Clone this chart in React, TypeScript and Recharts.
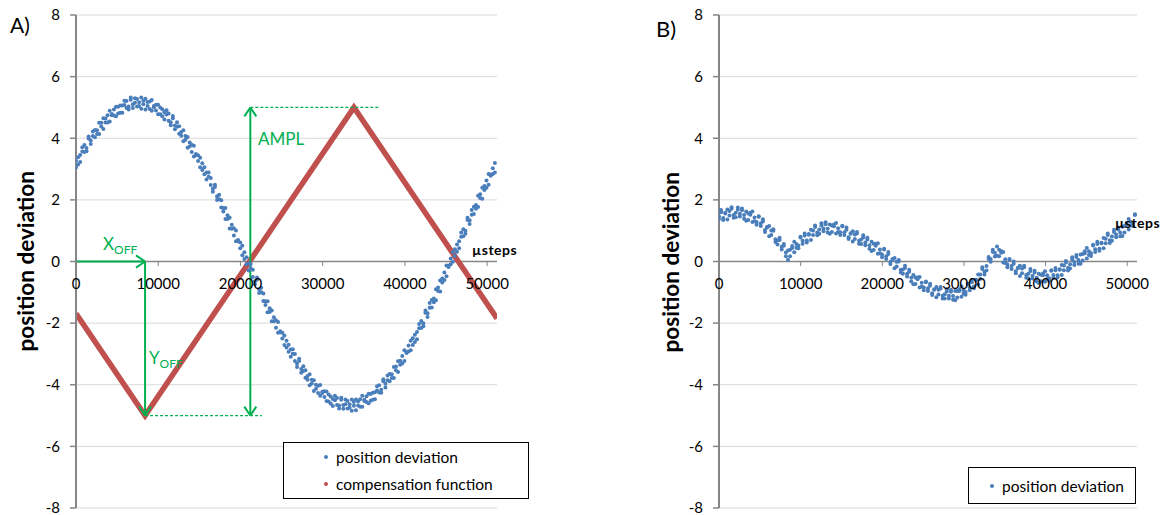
import React from "react";
import {
  ComposedChart,
  Scatter,
  Line,
  XAxis,
  YAxis,
  CartesianGrid,
  ReferenceLine,
  ReferenceDot,
  Legend,
} from "recharts";

// sample positions (µsteps) shared by both measurements
const steps = [
  0, 256, 512, 768, 1024, 1280, 1536, 1792, 2048, 2304, 2560, 2816, 3072, 3328, 3584, 3840, 4096, 4352, 4608, 4864,
  5120, 5376, 5632, 5888, 6144, 6400, 6656, 6912, 7168, 7424, 7680, 7936, 8192, 8448, 8704, 8960, 9216, 9472, 9728, 9984,
  10240, 10496, 10752, 11008, 11264, 11520, 11776, 12032, 12288, 12544, 12800, 13056, 13312, 13568, 13824, 14080, 14336, 14592, 14848, 15104,
  15360, 15616, 15872, 16128, 16384, 16640, 16896, 17152, 17408, 17664, 17920, 18176, 18432, 18688, 18944, 19200, 19456, 19712, 19968, 20224,
  20480, 20736, 20992, 21248, 21504, 21760, 22016, 22272, 22528, 22784, 23040, 23296, 23552, 23808, 24064, 24320, 24576, 24832, 25088, 25344,
  25600, 25856, 26112, 26368, 26624, 26880, 27136, 27392, 27648, 27904, 28160, 28416, 28672, 28928, 29184, 29440, 29696, 29952, 30208, 30464,
  30720, 30976, 31232, 31488, 31744, 32000, 32256, 32512, 32768, 33024, 33280, 33536, 33792, 34048, 34304, 34560, 34816, 35072, 35328, 35584,
  35840, 36096, 36352, 36608, 36864, 37120, 37376, 37632, 37888, 38144, 38400, 38656, 38912, 39168, 39424, 39680, 39936, 40192, 40448, 40704,
  40960, 41216, 41472, 41728, 41984, 42240, 42496, 42752, 43008, 43264, 43520, 43776, 44032, 44288, 44544, 44800, 45056, 45312, 45568, 45824,
  46080, 46336, 46592, 46848, 47104, 47360, 47616, 47872, 48128, 48384, 48640, 48896, 49152, 49408, 49664, 49920, 50176, 50432, 50688, 50944,
];

// A) position deviation, uncompensated (two passes)
const deviationA = [
  3.27, 3.15, 3.46, 3.71, 3.55, 3.58, 3.99, 3.93, 4.22, 4.03, 4.26, 4.14, 4.5, 4.65, 4.51, 4.51, 4.89, 4.75, 4.93, 4.71,
  5.02, 4.83, 5.06, 5.22, 4.98, 4.93, 5.25, 5.1, 5.3, 5.03, 5.17, 4.96, 5.22, 5.28, 5.05, 4.95, 5.24, 5.01, 5.09, 4.78,
  5.0, 4.71, 4.84, 4.91, 4.57, 4.42, 4.65, 4.41, 4.52, 4.15, 4.2, 3.9, 4.07, 4.04, 3.73, 3.55, 3.76, 3.45, 3.45, 3.06,
  3.19, 2.83, 2.89, 2.89, 2.48, 2.26, 2.42, 2.12, 2.17, 1.75, 1.74, 1.38, 1.5, 1.42, 1.06, 0.84, 1.01, 0.66, 0.62, 0.2,
  0.3, -0.09, -0.06, -0.08, -0.5, -0.74, -0.59, -0.9, -0.85, -1.28, -1.29, -1.65, -1.52, -1.59, -1.94, -2.15, -1.96, -2.3, -2.31, -2.71,
  -2.57, -2.93, -2.86, -2.85, -3.23, -3.42, -3.23, -3.49, -3.4, -3.77, -3.72, -4.02, -3.84, -3.85, -4.13, -4.27, -4.01, -4.27, -4.21, -4.53,
  -4.32, -4.61, -4.46, -4.36, -4.66, -4.77, -4.49, -4.66, -4.48, -4.77, -4.63, -4.84, -4.56, -4.48, -4.67, -4.71, -4.36, -4.53, -4.37, -4.6,
  -4.3, -4.49, -4.24, -4.05, -4.25, -4.26, -3.89, -3.97, -3.7, -3.89, -3.66, -3.78, -3.41, -3.24, -3.35, -3.31, -2.88, -2.97, -2.73, -2.88,
  -2.49, -2.61, -2.29, -2.03, -2.16, -2.1, -1.66, -1.68, -1.35, -1.49, -1.2, -1.26, -0.84, -0.62, -0.68, -0.6, -0.13, -0.18, 0.1, -0.01,
  0.4, 0.32, 0.66, 0.94, 0.82, 0.9, 1.35, 1.34, 1.67, 1.54, 1.83, 1.77, 2.18, 2.39, 2.32, 2.39, 2.84, 2.78, 3.03, 2.89,
];
const deviationA2 = [
  3.05, 3.38, 3.23, 3.57, 3.78, 3.68, 4.06, 3.81, 4.07, 4.27, 4.14, 4.5, 4.38, 4.3, 4.64, 4.75, 4.54, 4.79, 4.74, 5.02,
  4.8, 5.06, 4.83, 5.08, 5.21, 5.03, 5.32, 4.98, 5.15, 5.27, 5.05, 5.32, 5.1, 4.93, 5.18, 5.19, 4.89, 5.05, 4.9, 5.09,
  4.78, 4.94, 4.61, 4.77, 4.8, 4.52, 4.72, 4.29, 4.37, 4.39, 4.08, 4.26, 3.95, 3.69, 3.86, 3.79, 3.41, 3.49, 3.26, 3.37,
  2.97, 3.06, 2.66, 2.75, 2.71, 2.36, 2.49, 2.0, 2.02, 1.99, 1.62, 1.74, 1.38, 1.07, 1.19, 1.08, 0.66, 0.7, 0.43, 0.51,
  0.08, 0.14, -0.29, -0.22, -0.27, -0.64, -0.52, -1.02, -1.0, -1.04, -1.41, -1.29, -1.64, -1.94, -1.81, -1.91, -2.31, -2.26, -2.5, -2.4,
  -2.79, -2.7, -3.09, -2.99, -3.0, -3.32, -3.16, -3.61, -3.55, -3.53, -3.84, -3.66, -3.96, -4.2, -4.0, -4.03, -4.36, -4.23, -4.4, -4.22,
  -4.54, -4.38, -4.69, -4.5, -4.43, -4.67, -4.42, -4.78, -4.63, -4.53, -4.75, -4.48, -4.68, -4.83, -4.54, -4.47, -4.71, -4.49, -4.56, -4.29,
  -4.52, -4.26, -4.47, -4.19, -4.02, -4.16, -3.82, -4.09, -3.85, -3.65, -3.78, -3.42, -3.53, -3.59, -3.22, -3.07, -3.23, -2.93, -2.92, -2.57,
  -2.71, -2.38, -2.52, -2.17, -1.93, -2.0, -1.59, -1.8, -1.5, -1.25, -1.32, -0.9, -0.96, -0.97, -0.55, -0.36, -0.48, -0.14, -0.09, 0.3,
  0.18, 0.55, 0.43, 0.8, 1.05, 1.0, 1.42, 1.22, 1.52, 1.78, 1.71, 2.13, 2.06, 2.04, 2.45, 2.63, 2.49, 2.82, 2.84, 3.2,
];

// A) triangular compensation function (corner points)
const compensationSteps = [0, 8400, 33800, 51200];
const compensationValues = [-1.69, -5, 5, -1.85];

// B) position deviation, compensated (two passes)
const deviationB = [
  1.47, 1.67, 1.41, 1.56, 1.36, 1.64, 1.71, 1.51, 1.44, 1.75, 1.55, 1.66, 1.39, 1.62, 1.35, 1.52, 1.62, 1.31, 1.19, 1.45,
  1.24, 1.37, 1.02, 1.1, 0.82, 1.01, 1.0, 0.72, 0.55, 0.77, 0.48, 0.51, 0.17, 0.36, 0.17, 0.44, 0.64, 0.45, 0.43, 0.78,
  0.67, 0.91, 0.68, 0.87, 0.7, 1.01, 1.12, 0.94, 0.9, 1.24, 1.07, 1.21, 0.94, 1.2, 0.96, 1.14, 1.25, 0.96, 0.86, 1.14,
  0.95, 1.1, 0.79, 0.9, 0.65, 0.88, 0.91, 0.67, 0.57, 0.85, 0.62, 0.71, 0.41, 0.64, 0.37, 0.51, 0.59, 0.27, 0.14, 0.39,
  0.17, 0.31, -0.02, 0.06, -0.22, -0.01, 0.0, -0.27, -0.4, -0.14, -0.4, -0.33, -0.65, -0.44, -0.73, -0.58, -0.5, -0.81, -0.93, -0.67,
  -0.87, -0.72, -1.03, -0.92, -1.16, -0.92, -0.88, -1.11, -1.2, -0.9, -1.11, -0.98, -1.24, -0.96, -1.17, -0.96, -0.8, -1.05, -1.08, -0.73,
  -0.84, -0.6, -0.81, -0.61, -0.75, -0.42, -0.24, -0.33, -0.29, 0.15, 0.08, 0.32, 0.16, 0.49, 0.17, 0.28, 0.31, -0.05, -0.19, 0.06,
  -0.15, 0.0, -0.32, -0.22, -0.47, -0.23, -0.19, -0.44, -0.54, -0.24, -0.46, -0.36, -0.65, -0.4, -0.64, -0.45, -0.32, -0.57, -0.63, -0.3,
  -0.44, -0.21, -0.45, -0.27, -0.44, -0.13, -0.03, -0.2, -0.23, 0.14, -0.02, 0.15, -0.07, 0.23, 0.03, 0.27, 0.44, 0.21, 0.18, 0.52,
  0.4, 0.64, 0.41, 0.59, 0.43, 0.74, 0.86, 0.69, 0.67, 1.03, 0.88, 1.04, 0.82, 1.13, 0.94, 1.19, 1.38, 1.17, 1.15, 1.51,
];
const deviationB2 = [
  1.38, 1.6, 1.35, 1.58, 1.69, 1.49, 1.76, 1.42, 1.58, 1.68, 1.46, 1.72, 1.51, 1.32, 1.56, 1.58, 1.28, 1.43, 1.28, 1.47,
  1.15, 1.3, 0.96, 1.12, 1.15, 0.86, 1.05, 0.63, 0.69, 0.7, 0.39, 0.57, 0.29, 0.06, 0.38, 0.5, 0.3, 0.57, 0.52, 0.8,
  0.58, 0.84, 0.62, 0.89, 1.03, 0.86, 1.17, 0.85, 1.04, 1.17, 0.98, 1.27, 1.06, 0.9, 1.17, 1.2, 0.91, 1.08, 0.95, 1.16,
  0.86, 1.03, 0.73, 0.92, 0.98, 0.73, 0.96, 0.58, 0.71, 0.78, 0.53, 0.77, 0.53, 0.34, 0.58, 0.57, 0.25, 0.39, 0.23, 0.41,
  0.08, 0.24, -0.08, 0.08, 0.11, -0.16, 0.05, -0.36, -0.26, -0.21, -0.49, -0.27, -0.53, -0.74, -0.52, -0.52, -0.84, -0.69, -0.84, -0.65,
  -0.96, -0.79, -1.09, -0.9, -0.83, -1.07, -0.83, -1.2, -1.06, -0.97, -1.2, -0.92, -1.12, -1.26, -0.96, -0.9, -1.14, -0.93, -0.99, -0.71,
  -0.93, -0.67, -0.87, -0.59, -0.42, -0.57, -0.19, -0.42, -0.15, 0.08, -0.01, 0.38, 0.28, 0.19, 0.38, 0.34, -0.03, 0.07, -0.1, 0.08,
  -0.24, -0.07, -0.38, -0.2, -0.14, -0.38, -0.14, -0.53, -0.4, -0.31, -0.55, -0.3, -0.53, -0.7, -0.43, -0.39, -0.66, -0.45, -0.54, -0.28,
  -0.53, -0.28, -0.51, -0.25, -0.11, -0.28, 0.02, -0.29, -0.09, 0.07, -0.11, 0.21, 0.05, -0.07, 0.24, 0.33, 0.1, 0.33, 0.27, 0.54,
  0.31, 0.57, 0.35, 0.61, 0.76, 0.59, 0.91, 0.6, 0.81, 0.96, 0.79, 1.1, 0.94, 0.83, 1.15, 1.25, 1.04, 1.29, 1.24, 1.53,
];

const yTicks = [-8, -6, -4, -2, 0, 2, 4, 6, 8];
const xTicks = [0, 10000, 20000, 30000, 40000, 50000];
const legendOrder = ["position deviation", "compensation function"];

const FONT = "Lato, 'Open Sans', sans-serif";
const BLUE = "#4a7ebb";
const RED = "#c0504d";
const GREEN = "#00b050";
const AXIS = "#868686";

const toPoints = (xs: number[], ys: number[]) => xs.map((x, i) => ({ x, y: ys[i] }));

const devPointsA = toPoints(steps, deviationA);
const devPointsA2 = toPoints(steps, deviationA2);
const devPointsB = toPoints(steps, deviationB);
const devPointsB2 = toPoints(steps, deviationB2);
const compPoints = toPoints(compensationSteps, compensationValues);

const Dot = (props: any) => <circle cx={props.cx} cy={props.cy} r={2} fill={BLUE} />;

// only the named series, in the reference order
const LegendBox = ({ payload, dotLeft }: any) => {
  const items = (payload || [])
    .filter((p: any) => legendOrder.includes(p.value))
    .sort((a: any, b: any) => legendOrder.indexOf(a.value) - legendOrder.indexOf(b.value));
  return (
    <div
      style={{
        border: "1px solid #000",
        background: "#fff",
        boxSizing: "border-box",
        height: "100%",
        display: "flex",
        flexDirection: "column",
        justifyContent: "center",
        fontFamily: FONT,
        fontSize: 15.5,
        color: "#000",
        whiteSpace: "nowrap",
      }}
    >
      {items.map((p: any) => (
        <div key={p.value} style={{ display: "flex", alignItems: "center", height: 29, paddingLeft: dotLeft }}>
          <span style={{ width: 4, height: 4, borderRadius: "50%", background: p.color, marginRight: 8 }} />
          <span>{p.value}</span>
        </div>
      ))}
    </div>
  );
};

// x axis drawn through y = 0 (tick marks + labels)
const zeroAxis = (id: string) => [
  <ReferenceLine key={`${id}-axis`} y={0} stroke={AXIS} strokeWidth={1.5} />,
  ...xTicks.map((t) => (
    <ReferenceLine
      key={`${id}-tm-${t}`}
      segment={[{ x: t, y: 0 }, { x: t, y: -0.15 }]}
      stroke={AXIS}
      strokeWidth={1}
      ifOverflow="visible"
    />
  )),
  ...xTicks.map((t) => (
    <ReferenceDot
      key={`${id}-tl-${t}`}
      x={t}
      y={0}
      r={0}
      fill="none"
      stroke="none"
      ifOverflow="visible"
      label={{ value: String(t), position: "bottom", offset: 17, fill: "#000", fontSize: 15, fontFamily: FONT }}
    />
  )),
];

const seg = (key: string, x1: number, y1: number, x2: number, y2: number, dashed = false) => (
  <ReferenceLine
    key={key}
    segment={[{ x: x1, y: y1 }, { x: x2, y: y2 }]}
    stroke={GREEN}
    strokeWidth={dashed ? 1.2 : 2}
    strokeDasharray={dashed ? "3 2" : undefined}
    ifOverflow="visible"
  />
);

const annotations = [
  seg("xoff", 0, 0, 8400, 0),
  seg("xoff-h1", 7300, 0.2, 8400, 0),
  seg("xoff-h2", 7300, -0.2, 8400, 0),
  seg("yoff", 8400, 0, 8400, -5),
  seg("yoff-h1", 7670, -4.71, 8400, -5),
  seg("yoff-h2", 9130, -4.71, 8400, -5),
  seg("ampl", 21200, 5, 21200, -5),
  seg("ampl-t1", 20470, 4.71, 21200, 5),
  seg("ampl-t2", 21930, 4.71, 21200, 5),
  seg("ampl-b1", 20470, -4.71, 21200, -5),
  seg("ampl-b2", 21930, -4.71, 21200, -5),
  seg("dash-lo", 8400, -5, 22600, -5, true),
  seg("dash-hi", 21200, 5, 36900, 5, true),
];

const yAxisProps = {
  type: "number" as const,
  dataKey: "y",
  domain: [-8, 8],
  ticks: yTicks,
  interval: 0 as const,
  allowDataOverflow: true,
  axisLine: { stroke: AXIS, strokeWidth: 2 },
  tickLine: { stroke: AXIS, strokeWidth: 1.5 },
  tickSize: 6,
  tickMargin: 10,
  tick: { fill: "#000", fontSize: 15, fontFamily: FONT },
};

const text = (content: React.ReactNode, style: React.CSSProperties) => (
  <div style={{ position: "absolute", lineHeight: 1, whiteSpace: "nowrap", fontFamily: FONT, ...style }}>{content}</div>
);

const yTitle = (cx: number, cy: number) =>
  text("position deviation", {
    left: cx - 110,
    top: cy - 11.25,
    width: 220,
    textAlign: "center",
    fontSize: 22.5,
    fontWeight: 700,
    transform: "rotate(-90deg)",
  });

const sub = (letter: string) => (
  <span>
    {letter}
    <span style={{ fontSize: 12, position: "relative", top: 4 }}>OFF</span>
  </span>
);

export default function App() {
  return (
    <div style={{ position: "absolute", left: 0, top: 0, width: 1161, height: 515, background: "#fff" }}>
      <div style={{ position: "absolute", left: 0, top: 0 }}>
        <ComposedChart width={580} height={515} margin={{ top: 15, right: 83, bottom: 7, left: 0 }}>
          <CartesianGrid vertical={false} stroke="#d9d9d9" />
          <XAxis type="number" dataKey="x" domain={[0, 51200]} hide allowDataOverflow />
          <YAxis {...yAxisProps} width={76} />
          {zeroAxis("a")}
          <Scatter name="position deviation" data={devPointsA} fill={BLUE} shape={<Dot />} isAnimationActive={false} />
          <Scatter name="pass 2" data={devPointsA2} fill={BLUE} shape={<Dot />} isAnimationActive={false} />
          <Line
            name="compensation function"
            data={compPoints}
            dataKey="y"
            type="linear"
            stroke={RED}
            strokeWidth={5.5}
            dot={false}
            activeDot={false}
            isAnimationActive={false}
          />
          {annotations}
          <Legend
            layout="horizontal"
            verticalAlign="middle"
            align="center"
            wrapperStyle={{ left: 283, top: 442, width: 246, height: 57 }}
            content={<LegendBox dotLeft={40} />}
          />
        </ComposedChart>
      </div>

      <div style={{ position: "absolute", left: 580, top: 0 }}>
        <ComposedChart width={581} height={515} margin={{ top: 15, right: 24, bottom: 7, left: 0 }}>
          <CartesianGrid vertical={false} stroke="#d9d9d9" />
          <XAxis type="number" dataKey="x" domain={[0, 51200]} hide allowDataOverflow />
          <YAxis {...yAxisProps} width={139} />
          {zeroAxis("b")}
          <Scatter name="position deviation" data={devPointsB} fill={BLUE} shape={<Dot />} isAnimationActive={false} />
          <Scatter name="pass 2" data={devPointsB2} fill={BLUE} shape={<Dot />} isAnimationActive={false} />
          <Legend
            layout="horizontal"
            verticalAlign="middle"
            align="center"
            wrapperStyle={{ left: 388, top: 467, width: 168, height: 37 }}
            content={<LegendBox dotLeft={21} />}
          />
        </ComposedChart>
      </div>

      {text("A)", { left: 10, top: 14, fontSize: 21 })}
      {text("B)", { left: 656, top: 18, fontSize: 22 })}
      {yTitle(26, 261)}
      {yTitle(671, 262)}
      {text("µsteps", { left: 472, top: 243, fontSize: 14, fontWeight: 700, letterSpacing: 0.5 })}
      {text("µsteps", { left: 1115, top: 216, fontSize: 14, fontWeight: 700, letterSpacing: 0.5 })}
      {text(sub("X"), { left: 103, top: 235, fontSize: 17, color: GREEN })}
      {text(sub("Y"), { left: 149, top: 349, fontSize: 17, color: GREEN })}
      {text("AMPL", { left: 258, top: 130, fontSize: 17, color: GREEN })}
    </div>
  );
}
